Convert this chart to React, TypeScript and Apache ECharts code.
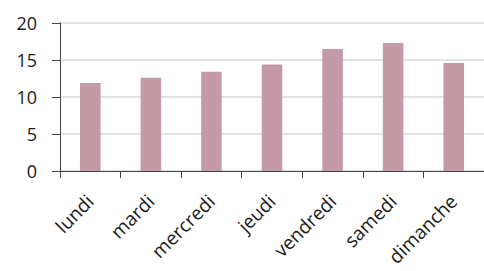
import React, { useEffect, useRef } from "react";
import * as echarts from "echarts";

const categories = ["lundi", "mardi", "mercredi", "jeudi", "vendredi", "samedi", "dimanche"];
const values = [11.9, 12.6, 13.4, 14.4, 16.5, 17.3, 14.6];
const yTicks = { min: 0, max: 20, interval: 5 };

export default function App() {
  const ref = useRef<HTMLDivElement>(null);
  useEffect(() => {
    const chart = echarts.init(ref.current!, null, { renderer: "svg" });
    chart.setOption({
      animation: false,
      grid: { left: 60, right: -11.5, top: 23, bottom: 100, containLabel: false },
      xAxis: {
        type: "category",
        data: categories,
        axisLine: { lineStyle: { color: "#444", width: 1 } },
        axisTick: { show: true, length: 7, lineStyle: { color: "#444" } },
        axisLabel: {
          rotate: 45,
          color: "#1a1a1a",
          fontSize: 19,
          fontFamily: "Open Sans",
          margin: 27,
          interval: 0,
        },
      },
      yAxis: {
        type: "value",
        min: yTicks.min,
        max: yTicks.max,
        interval: yTicks.interval,
        axisLine: { show: true, lineStyle: { color: "#444", width: 1 } },
        axisTick: { show: true, length: 8, lineStyle: { color: "#444" } },
        axisLabel: { color: "#1a1a1a", fontSize: 18, fontFamily: "Open Sans", margin: 23 },
        splitLine: { lineStyle: { color: "#d9d9d9", width: 1.5 } },
      },
      series: [
        {
          type: "bar",
          data: values,
          barWidth: "34%",
          itemStyle: { color: "#c49aa6" },
        },
      ],
    });
    return () => chart.dispose();
  }, []);
  return <div ref={ref} style={{ width: 484, height: 271, position: "absolute", left: 0, top: 0 }} />;
}
